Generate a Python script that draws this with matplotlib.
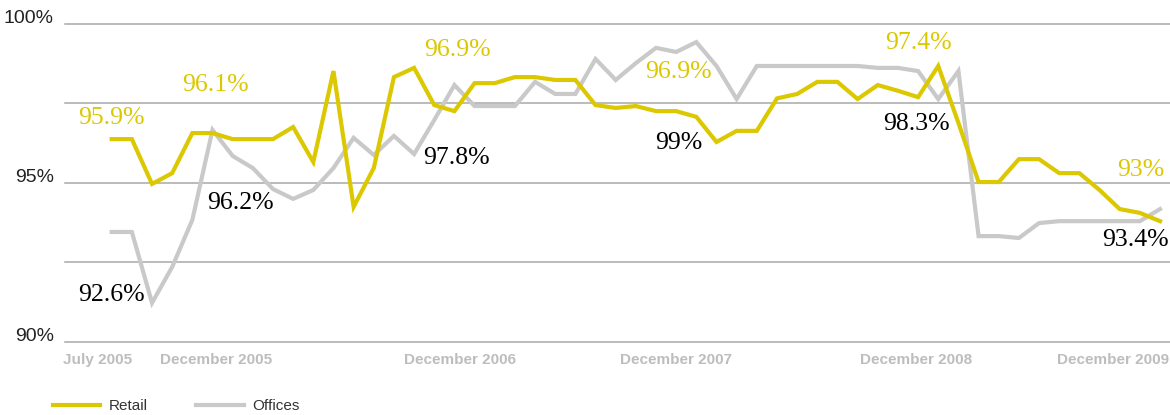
import matplotlib
matplotlib.use("Agg")
import matplotlib.pyplot as plt
import numpy as np

# monthly occupancy, July 2005 onward
retail = [96.38, 96.38, 94.97, 95.31, 96.57, 96.57, 96.38, 96.38, 96.38, 96.76,
          95.66, 98.52, 94.25, 95.47, 98.33, 98.62, 97.45, 97.26, 98.14, 98.14,
          98.33, 98.33, 98.24, 98.24, 97.45, 97.36, 97.42, 97.26, 97.26, 97.08,
          96.29, 96.64, 96.64, 97.66, 97.80, 98.18, 98.18, 97.64, 98.08, 97.90,
          97.70, 98.68, 96.89, 95.03, 95.03, 95.75, 95.75, 95.31, 95.31, 94.78,
          94.18, 94.06, 93.80]
offices = [93.46, 93.46, 91.23, 92.36, 93.84, 96.67, 95.85, 95.47, 94.81, 94.50,
           94.78, 95.47, 96.42, 95.88, 96.48, 95.91, 96.98, 98.08, 97.42, 97.42,
           97.42, 98.18, 97.80, 97.80, 98.90, 98.24, 98.77, 99.25, 99.12, 99.43,
           98.68, 97.64, 98.68, 98.68, 98.68, 98.68, 98.68, 98.68, 98.62, 98.62,
           98.52, 97.64, 98.52, 93.33, 93.33, 93.27, 93.74, 93.80, 93.80, 93.80,
           93.80, 93.80, 94.18]

tick_labels = ["July 2005", "December 2005", "December 2006",
               "December 2007", "December 2008", "December 2009"]
tick_pos = [-0.7, 5.2, 17.3, 28.0, 39.9, 49.65]

retail_notes = ["95.9%", "96.1%", "96.9%", "96.9%", "97.4%", "93%"]
retail_note_pos = [(0.0, 97.04), (5.17, 98.08), (17.13, 99.18),
                   (28.1, 98.49), (40.0, 99.40), (51.06, 95.41)]
office_notes = ["92.6%", "96.2%", "97.8%", "99%", "98.3%", "93.4%"]
office_note_pos = [(0.0, 91.48), (6.37, 94.37), (17.08, 95.79),
                   (28.15, 96.26), (39.9, 96.86), (50.76, 93.21)]

YELLOW = "#DCC800"
GREY = "#C9C9C9"

fig = plt.figure(figsize=(11.7, 4.15), dpi=100)
ax = fig.add_axes([65 / 1170, (415 - 342) / 415, 1105 / 1170, 318 / 415])

x = np.arange(len(retail))
ax.plot(x, offices, color=GREY, lw=3, label="Offices", zorder=2,
        solid_joinstyle="miter")
ax.plot(x, retail, color=YELLOW, lw=3, label="Retail", zorder=3,
        solid_joinstyle="miter")

ax.set_xlim((65 - 111.7) / 20.16, (1170 - 111.7) / 20.16)
ax.set_ylim(90, 100)

for v in [90, 92.5, 95, 97.5, 100]:
    ax.axhline(v, color="#A8A8A8", lw=1.1, zorder=1, clip_on=False)

for s in ax.spines.values():
    s.set_visible(False)
ax.set_yticks([])
ax.set_xticks(tick_pos)
ax.set_xticklabels(tick_labels, color="#BDBDBD", fontsize=11,
                   fontweight="bold", family="Liberation Sans")
ax.tick_params(axis="x", length=0, pad=8)

for v, lab in [(100, "100%"), (95, "95%"), (90, "90%")]:
    ax.text(-0.01, v + 0.17, lab, transform=ax.get_yaxis_transform(),
            ha="right", va="center", fontsize=14, color="#222222",
            family="Liberation Sans")

for lab, (px, py) in zip(retail_notes, retail_note_pos):
    ax.text(px, py, lab, color=YELLOW, fontsize=18.5, ha="center", va="center",
            family="Liberation Serif", zorder=4)
for lab, (px, py) in zip(office_notes, office_note_pos):
    ax.text(px, py, lab, color="black", fontsize=18.5, ha="center", va="center",
            family="Liberation Serif", zorder=4)

handles, labels = ax.get_legend_handles_labels()
leg = fig.legend(handles[::-1], labels[::-1], loc="center left",
                 bbox_to_anchor=(39 / 1170, 1 - 406 / 415), ncol=2,
                 frameon=False, handlelength=3.1, handletextpad=0.55,
                 columnspacing=3.2, prop={"family": "Liberation Sans", "size": 11})
for t in leg.get_texts():
    t.set_color("#333333")

fig.savefig("out.png", dpi=100)
